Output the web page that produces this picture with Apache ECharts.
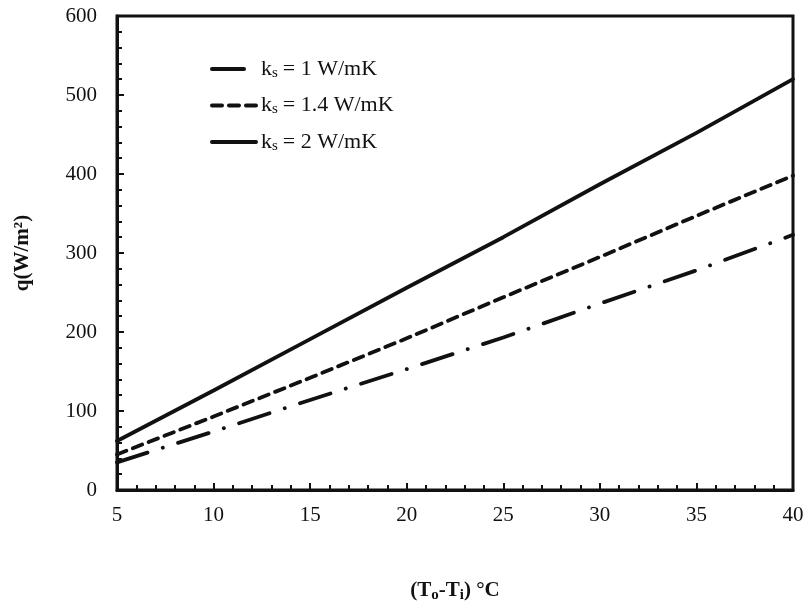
<!DOCTYPE html>
<html>
<head>
<meta charset="utf-8">
<script src="https://cdn.jsdelivr.net/npm/echarts@6/dist/echarts.min.js"></script>
<style>
  html, body { margin: 0; padding: 0; background: #fff; }
  #chart { width: 811px; height: 614px; }
</style>
</head>
<body>
<div id="chart"></div>
<script>
// temperature difference (To - Ti), °C
const deltaT = [5, 10, 15, 20, 25, 30, 35, 40]
// heat flux q (W/m²) for each soil conductivity
const qK1 = [35, 74, 114, 153, 193, 236, 278, 323]
const qK14 = [45, 93, 142, 192, 244, 295, 347, 398]
const qK2 = [62, 126, 191, 256, 320, 387, 452, 520]
const seriesNames = ['k1', 'k14', 'k2']
const legendLabels = {
  k1: '{k|k}{s|s}{t|= 1 W/mK}',
  k14: '{k|k}{s|s}{t|= 1.4 W/mK}',
  k2: '{k|k}{s|s}{t|= 2 W/mK}',
}

const font = 'Liberation Serif'
const pair = arr => deltaT.map((x, i) => [x, arr[i]])

const chart = echarts.init(document.getElementById('chart'))

const lineSeries = (name, data, type) => ({
  name,
  type: 'line',
  data: pair(data),
  showSymbol: false,
  symbol: 'none',
  itemStyle: { color: '#111' },
  lineStyle: { color: '#111', width: 3.8, type, cap: 'round' },
  animation: false,
})

chart.setOption({
  backgroundColor: '#fff',
  grid: {
    left: 117, right: 18, top: 16, bottom: 124,
    show: true, borderColor: '#111', borderWidth: 3,
  },
  legend: {
    orient: 'vertical',
    left: 205,
    top: 53,
    itemWidth: 44,
    itemHeight: 14,
    itemGap: 14,
    data: seriesNames,
    itemStyle: { opacity: 0 },
    lineStyle: { width: 4, cap: 'round' },
    formatter: name => legendLabels[name],
    textStyle: {
      fontFamily: font,
      color: '#111',
      rich: {
        k: { fontFamily: font, fontSize: 22, color: '#111' },
        s: { fontFamily: font, fontSize: 15, color: '#111', verticalAlign: 'bottom', padding: [8, 5, 0, 0] },
        t: { fontFamily: font, fontSize: 22, color: '#111' },
      },
    },
  },
  xAxis: {
    type: 'value',
    min: 5, max: 40, interval: 5,
    name: '{b|(T}{sub|o}{b|-T}{sub|i}{b|) °C}',
    nameLocation: 'middle',
    nameGap: 88,
    nameTextStyle: {
      rich: {
        b: { fontFamily: font, fontSize: 21, fontWeight: 'bold', color: '#111' },
        sub: { fontFamily: font, fontSize: 15, fontWeight: 'bold', color: '#111', verticalAlign: 'bottom', padding: [10, 0, 0, 0] },
      },
    },
    axisLine: { show: true, lineStyle: { color: '#111', width: 3 } },
    axisTick: { show: true, inside: true, length: 7, lineStyle: { color: '#111', width: 2 } },
    minorTick: { show: true, splitNumber: 5, length: 5, lineStyle: { color: '#111', width: 2 } },
    splitLine: { show: false },
    axisLabel: { fontFamily: font, fontSize: 21, color: '#111', margin: 15 },
  },
  yAxis: {
    type: 'value',
    min: 0, max: 600, interval: 100,
    name: 'q(W/m²)',
    nameLocation: 'middle',
    nameGap: 84,
    nameTextStyle: { fontFamily: font, fontSize: 21, fontWeight: 'bold', color: '#111' },
    axisLine: { show: true, lineStyle: { color: '#111', width: 3 } },
    axisTick: { show: true, inside: true, length: 7, lineStyle: { color: '#111', width: 2 } },
    minorTick: { show: true, splitNumber: 5, length: 5, lineStyle: { color: '#111', width: 2 } },
    splitLine: { show: false },
    axisLabel: { fontFamily: font, fontSize: 21, color: '#111', margin: 20 },
  },
  series: [
    lineSeries('k1', qK1, [32, 16, 0.1, 16]),
    lineSeries('k14', qK14, [10, 7]),
    lineSeries('k2', qK2, 'solid'),
  ],
})
</script>
</body>
</html>
